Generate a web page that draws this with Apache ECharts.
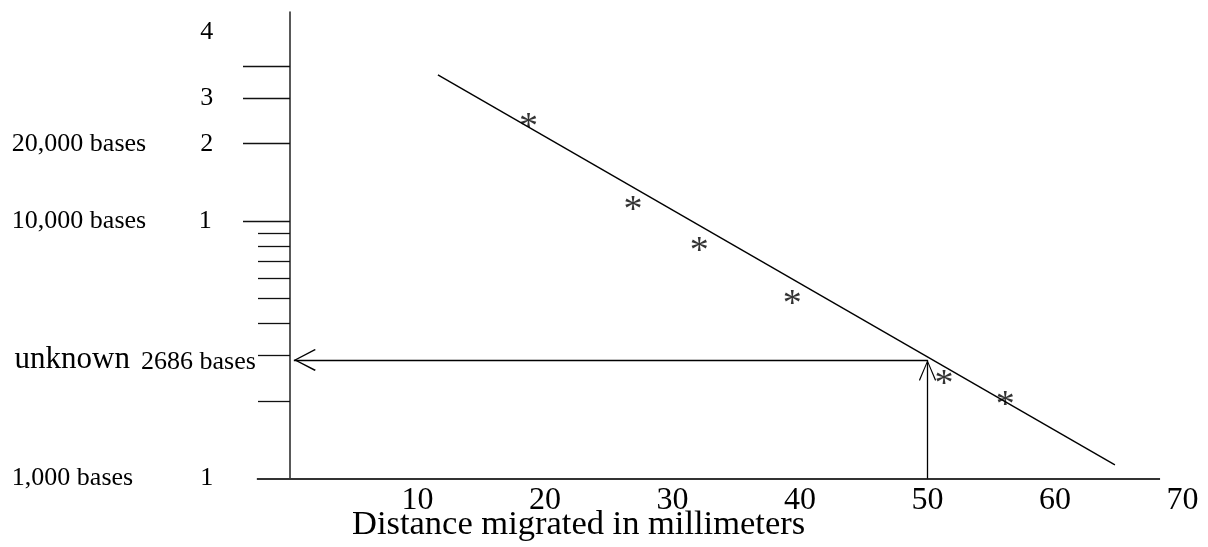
<!DOCTYPE html>
<html>
<head>
<meta charset="utf-8">
<script src="https://cdn.jsdelivr.net/npm/echarts@6/dist/echarts.min.js"></script>
<style>
html,body{margin:0;padding:0;background:#ffffff;}
#chart{width:1208px;height:547px;}
</style>
</head>
<body>
<div id="chart"></div>
<script>
// ---------------- data ----------------
const starDistanceMm = [18.7, 26.9, 32.1, 39.4, 51.3, 56.1];
const starBases      = [24500, 11700, 8100, 5050, 2450, 2040];

const fitLineMm    = [11.6, 64.7];
const fitLineBases = [37000, 1130];

const unknownMm        = 50;
const unknownBases     = 2890;
const arrowTargetMm    = 0.3;
const unknownWord      = 'unknown';
const unknownValueText = '2686 bases';

const xTickLabels = [10, 20, 30, 40, 50, 60, 70];
const xAxisTitle  = 'Distance migrated in millimeters';
const xRange      = [-2.6, 71];
const xAxisLineEndMm = 68.24;

const yRange       = [1000, 65000];
const yMajorTicks  = [10000, 20000, 30000, 40000];
const yMinorTicks  = [2000, 3000, 4000, 5000, 6000, 7000, 8000, 9000];
const yLabelValues = [1000, 10000, 20000, 30000, 40000];
const yLabelNames  = ['1,000 bases', '10,000 bases', '20,000 bases', '', ''];
const yLabelCycles = ['1', '1', '2', '3', '4'];

// ---------------- chart ----------------
const FONT = "'Liberation Serif', 'Times New Roman', serif";
const INK = '#000000';
const CHEVRON = 'path://M10,0 L20,19 L19,20 L10,2.4 L1,20 L0,19 Z';

const chart = echarts.init(document.getElementById('chart'), null, { renderer: 'canvas' });

function nearestIndex(arr, v) {
  let best = 0, bd = Infinity;
  arr.forEach((a, i) => { const d = Math.abs(Math.log10(a) - Math.log10(v)); if (d < bd) { bd = d; best = i; } });
  return best;
}

const hiddenX = {
  type: 'value',
  min: xRange[0],
  max: xRange[1],
  show: true,
  splitLine: { show: false },
  axisLine: { show: false },
  axisTick: { show: false },
  axisLabel: { show: false }
};

const option = {
  backgroundColor: '#ffffff',
  animation: false,
  title: {
    text: xAxisTitle,
    left: 352,
    top: 507,
    padding: 0,
    textStyle: { fontFamily: FONT, fontSize: 34.5, fontWeight: 'normal', color: INK }
  },
  grid: { left: 256.85, right: 12.75, top: 12, bottom: 68.5, containLabel: false, outerBoundsMode: 'none' },
  xAxis: [
    {
      type: 'value',
      min: xRange[0],
      max: xRange[1],
      splitLine: { show: false },
      axisLine: { show: false },
      axisTick: { show: false },
      axisLabel: {
        customValues: xTickLabels,
        formatter: v => String(Math.round(v)),
        fontFamily: FONT, fontSize: 32, color: INK, margin: 6
      }
    },
    hiddenX
  ],
  yAxis: [
    {
      type: 'log',
      min: yRange[0],
      max: yRange[1],
      position: 'left',
      splitLine: { show: false },
      axisLine: { show: true, onZero: true, onZeroAxisIndex: 0, lineStyle: { color: '#222', width: 1.5 } },
      axisTick: { show: true, inside: false, length: 47, customValues: yMajorTicks, lineStyle: { color: '#111', width: 1.3 } },
      axisLabel: {
        show: true,
        customValues: yLabelValues,
        margin: 42,
        color: INK,
        fontFamily: FONT,
        fontSize: 26,
        formatter: function (v) {
          const i = nearestIndex(yLabelValues, v);
          const name = yLabelNames[i];
          const style = i === 4 ? 'dUp' : (i === 1 ? 'dL' : 'd');
          const cyc = '{' + style + '|' + yLabelCycles[i] + '}';
          return name ? '{b|' + name + '}' + cyc : cyc;
        },
        rich: {
          b: { width: 187, align: 'left', fontFamily: FONT, fontSize: 26, color: INK },
          d: { width: 16, align: 'center', fontFamily: FONT, fontSize: 26, color: INK },
          dL: { width: 16, align: 'left', fontFamily: FONT, fontSize: 26, color: INK },
          dUp: { width: 16, align: 'center', fontFamily: FONT, fontSize: 26, color: INK, padding: [0, 0, 68, 0] }
        }
      }
    },
    {
      type: 'log',
      min: yRange[0],
      max: yRange[1],
      position: 'left',
      splitLine: { show: false },
      axisLine: { show: true, onZero: true, onZeroAxisIndex: 1, lineStyle: { color: '#ffffff', width: 0, opacity: 0 } },
      axisTick: { show: true, inside: false, length: 32, customValues: yMinorTicks, lineStyle: { color: '#111', width: 1.3 } },
      axisLabel: { show: false }
    }
  ],
  series: [
    {
      name: 'fit',
      type: 'line',
      xAxisIndex: 0,
      yAxisIndex: 0,
      data: fitLineMm.map((x, i) => [x, fitLineBases[i]]),
      symbol: 'none',
      lineStyle: { color: INK, width: 1.4 },
      silent: true,
      markLine: {
        silent: true,
        symbol: ['none', 'none'],
        lineStyle: { color: INK, width: 1.3, type: 'solid' },
        label: { show: false },
        emphasis: { disabled: true },
        data: [
          [
            { coord: [xRange[0], yRange[0]], lineStyle: { color: '#333', width: 1.8 } },
            { coord: [xAxisLineEndMm, yRange[0]] }
          ],
          [
            { coord: [unknownMm, yRange[0]] },
            { coord: [unknownMm, unknownBases], symbol: CHEVRON, symbolSize: [17, 21], symbolOffset: [0, '50%'] }
          ],
          [
            {
              coord: [unknownMm, unknownBases],
              label: {
                show: true,
                position: 'end',
                distance: 38,
                formatter: '{u|' + unknownWord + '}{n|' + unknownValueText + '}',
                rich: {
                  u: { fontFamily: FONT, fontSize: 31, color: INK, verticalAlign: 'bottom' },
                  n: { fontFamily: FONT, fontSize: 26, color: INK, verticalAlign: 'bottom', padding: [0, 0, 0, 11] }
                }
              }
            },
            { coord: [arrowTargetMm, unknownBases], symbol: CHEVRON, symbolSize: [22, 22], symbolOffset: [0, '50%'] }
          ]
        ]
      }
    },
    {
      name: 'standards',
      type: 'scatter',
      xAxisIndex: 0,
      yAxisIndex: 0,
      data: starDistanceMm.map((x, i) => [x, starBases[i]]),
      symbol: 'circle',
      symbolSize: 1,
      itemStyle: { color: 'rgba(0,0,0,0)' },
      silent: true,
      label: {
        show: true,
        position: 'inside',
        formatter: '*',
        fontFamily: FONT,
        fontSize: 38,
        color: INK,
        offset: [0, 7]
      }
    }
  ]
};

chart.setOption(option);
</script>
</body>
</html>
